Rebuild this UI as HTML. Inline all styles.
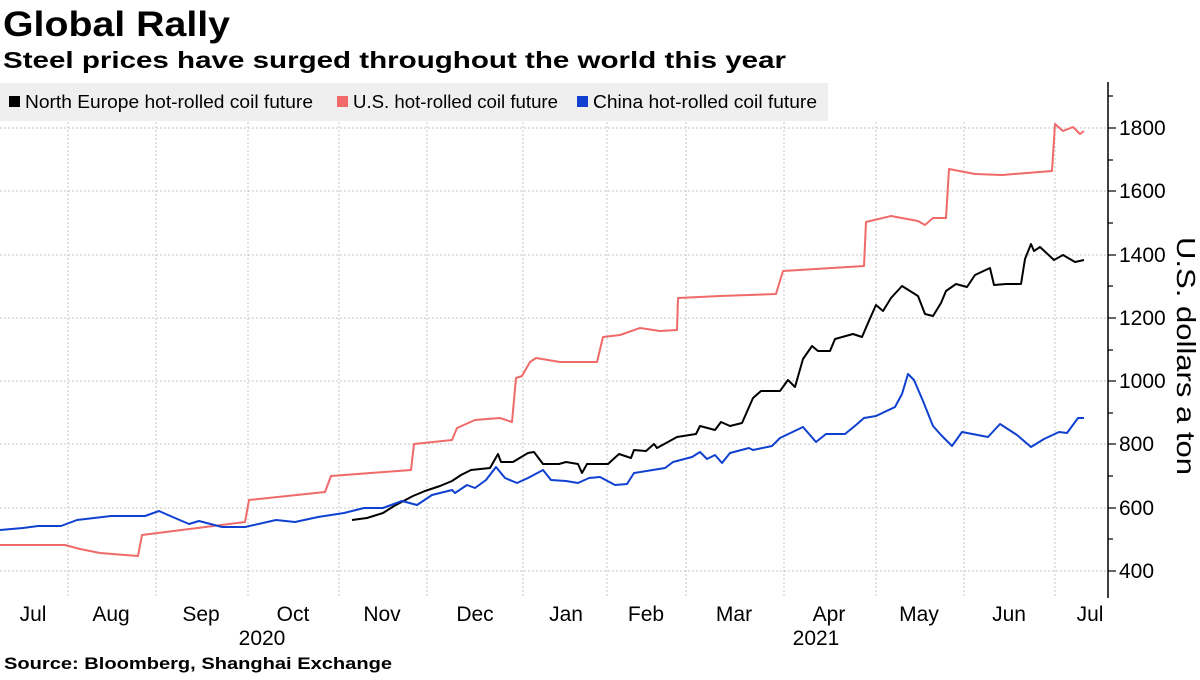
<!DOCTYPE html>
<html><head><meta charset="utf-8"><style>
body{margin:0;background:#fff;width:1200px;height:675px;overflow:hidden;font-family:"Liberation Sans","DejaVu Sans",sans-serif}
</style></head><body>
<svg width="1200" height="675" xmlns="http://www.w3.org/2000/svg" font-family="Liberation Sans, DejaVu Sans, sans-serif">
<text x="3" y="36" font-size="35" font-weight="bold" textLength="227" lengthAdjust="spacingAndGlyphs">Global Rally</text>
<text x="3" y="68" font-size="23" font-weight="bold" textLength="783" lengthAdjust="spacingAndGlyphs">Steel prices have surged throughout the world this year</text>
<rect x="0" y="83" width="828" height="38" fill="#efefef"/>
<rect x="9" y="96" width="11" height="11" fill="#000"/>
<text x="25" y="108" font-size="18" textLength="288" lengthAdjust="spacingAndGlyphs">North Europe hot-rolled coil future</text>
<rect x="337" y="96" width="11" height="11" fill="#f06a6a"/>
<text x="353" y="108" font-size="18" textLength="205" lengthAdjust="spacingAndGlyphs">U.S. hot-rolled coil future</text>
<rect x="577" y="96" width="11" height="11" fill="#1040d0"/>
<text x="593" y="108" font-size="18" textLength="224" lengthAdjust="spacingAndGlyphs">China hot-rolled coil future</text>
<g stroke="#c4c4c4" stroke-dasharray="2,2" stroke-width="1">
<line x1="0" x2="1107" y1="128" y2="128"/><line x1="0" x2="1107" y1="191" y2="191"/><line x1="0" x2="1107" y1="255" y2="255"/><line x1="0" x2="1107" y1="318" y2="318"/><line x1="0" x2="1107" y1="381" y2="381"/><line x1="0" x2="1107" y1="444" y2="444"/><line x1="0" x2="1107" y1="508" y2="508"/><line x1="0" x2="1107" y1="571" y2="571"/>
<line x1="68" x2="68" y1="122" y2="598"/><line x1="156" x2="156" y1="122" y2="598"/><line x1="248" x2="248" y1="122" y2="598"/><line x1="339" x2="339" y1="122" y2="598"/><line x1="427" x2="427" y1="122" y2="598"/><line x1="523" x2="523" y1="122" y2="598"/><line x1="607" x2="607" y1="122" y2="598"/><line x1="686" x2="686" y1="122" y2="598"/><line x1="784" x2="784" y1="122" y2="598"/><line x1="876" x2="876" y1="122" y2="598"/><line x1="964" x2="964" y1="122" y2="598"/><line x1="1055" x2="1055" y1="122" y2="598"/>
</g>
<line x1="1108" x2="1108" y1="82" y2="598" stroke="#000" stroke-width="1.5"/>
<g stroke="#000" stroke-width="1.2">
<line x1="1108" x2="1116" y1="128" y2="128"/><line x1="1108" x2="1116" y1="191" y2="191"/><line x1="1108" x2="1116" y1="255" y2="255"/><line x1="1108" x2="1116" y1="318" y2="318"/><line x1="1108" x2="1116" y1="381" y2="381"/><line x1="1108" x2="1116" y1="444" y2="444"/><line x1="1108" x2="1116" y1="508" y2="508"/><line x1="1108" x2="1116" y1="571" y2="571"/>
<line x1="1108" x2="1113" y1="96" y2="96"/><line x1="1108" x2="1113" y1="160" y2="160"/><line x1="1108" x2="1113" y1="223" y2="223"/><line x1="1108" x2="1113" y1="286" y2="286"/><line x1="1108" x2="1113" y1="350" y2="350"/><line x1="1108" x2="1113" y1="413" y2="413"/><line x1="1108" x2="1113" y1="476" y2="476"/><line x1="1108" x2="1113" y1="539" y2="539"/>
</g>
<g font-size="21" fill="#000">
<text x="1119" y="135">1800</text><text x="1119" y="198">1600</text><text x="1119" y="262">1400</text><text x="1119" y="325">1200</text><text x="1119" y="388">1000</text><text x="1119" y="451">800</text><text x="1119" y="515">600</text><text x="1119" y="578">400</text>
</g>
<text transform="translate(1177,356) rotate(90)" text-anchor="middle" font-size="26" textLength="238" lengthAdjust="spacingAndGlyphs">U.S. dollars a ton</text>
<g font-size="21" text-anchor="middle">
<text x="33" y="621">Jul</text><text x="111" y="621">Aug</text><text x="201" y="621">Sep</text><text x="293" y="621">Oct</text><text x="382" y="621">Nov</text><text x="475" y="621">Dec</text><text x="566" y="621">Jan</text><text x="646" y="621">Feb</text><text x="734" y="621">Mar</text><text x="829" y="621">Apr</text><text x="919" y="621">May</text><text x="1009" y="621">Jun</text><text x="1090" y="621">Jul</text>
<text x="262" y="645">2020</text><text x="816" y="645">2021</text>
</g>
<text x="4" y="669" font-size="17" font-weight="bold" textLength="388" lengthAdjust="spacingAndGlyphs">Source:  Bloomberg, Shanghai Exchange</text>
<g fill="none" stroke-width="2" stroke-linejoin="round">
<polyline stroke="#f06a6a" points="0,545 65,545 80,549 100,553 138,556 142,535 245,522 249,500 325,492 331,476 411,470 414,444 452,440 457,428 475,420 500,418 512,422 516,378 522,376 530,362 536,358 560,362 597,362 603,337 620,335 640,328 660,331 677,330 678,298 720,296 776,294 783,271 864,266 866,222 891,216 918,221 925,225 933,218 946,218 949,169 975,174 1002,175 1052,171 1055,124 1063,131 1073,127 1080,134 1084,131"/>
<polyline stroke="#000" points="352,520 367,518 383,513 394,506 413,496 425,491 440,486 452,481 461,475 471,470 490,468 498,454 501,462 513,462 528,453 534,452 543,464 559,464 566,462 578,464 582,473 587,464 600,464 608,464 619,454 631,458 634,450 646,451 654,444 657,448 677,437 696,434 700,426 715,430 721,422 730,426 742,423 753,398 761,391 780,391 788,380 795,387 803,359 812,346 818,351 830,351 835,339 853,334 862,337 868,323 876,305 883,311 891,298 902,286 918,296 925,314 933,316 941,303 946,291 956,284 967,287 975,275 990,268 994,285 1006,284 1021,284 1025,259 1031,244 1034,251 1040,247 1054,260 1063,255 1075,262 1084,260"/>
<polyline stroke="#1040d0" points="0,530 23,528 38,526 61,526 77,520 111,516 145,516 159,511 168,515 189,524 199,521 222,527 245,527 276,520 295,522 318,517 344,513 364,508 383,508 402,501 417,505 432,495 452,490 455,493 467,485 475,488 486,480 496,467 505,478 517,483 528,478 543,470 551,480 566,481 578,483 589,478 600,477 615,485 627,484 634,473 665,468 673,462 692,457 700,452 707,459 715,455 722,463 730,453 749,448 753,450 772,446 780,438 803,427 816,442 826,434 845,434 856,425 864,418 876,416 895,407 902,394 908,374 914,380 923,401 933,426 941,435 952,446 962,432 988,437 1000,424 1017,435 1031,447 1044,439 1059,432 1067,433 1078,418 1084,418"/>
</g>
</svg>
</body></html>
